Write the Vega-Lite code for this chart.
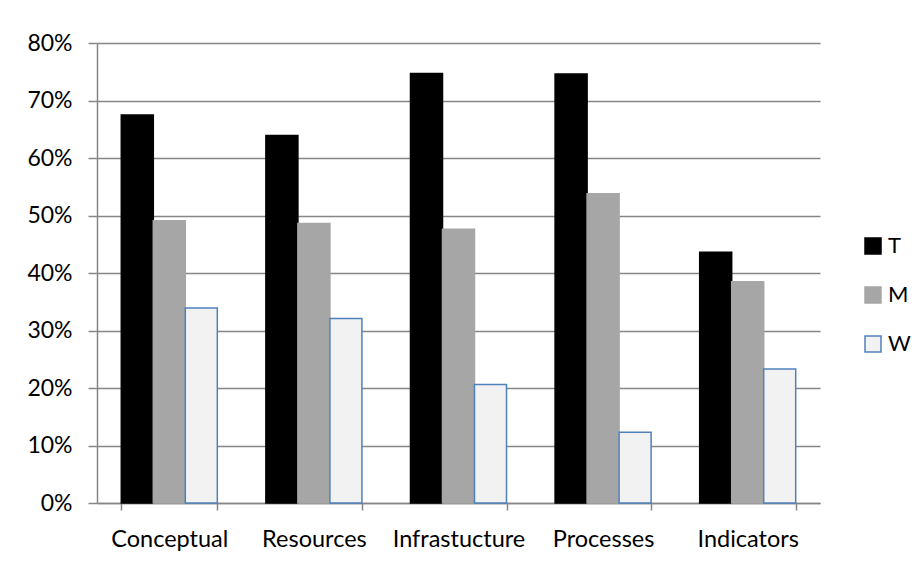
{
  "$schema": "https://vega.github.io/schema/vega-lite/v6.json",
  "width": 723,
  "height": 460,
  "autosize": {"type": "none"},
  "padding": {"left": 97, "top": 43, "right": 101, "bottom": 63},
  "background": "white",
  "data": {"values": [
    {"category": "Conceptual", "series": "T", "value": 0.675},
    {"category": "Conceptual", "series": "M", "value": 0.491},
    {"category": "Conceptual", "series": "W", "value": 0.339},
    {"category": "Resources", "series": "T", "value": 0.639},
    {"category": "Resources", "series": "M", "value": 0.486},
    {"category": "Resources", "series": "W", "value": 0.321},
    {"category": "Infrastucture", "series": "T", "value": 0.747},
    {"category": "Infrastucture", "series": "M", "value": 0.476},
    {"category": "Infrastucture", "series": "W", "value": 0.206},
    {"category": "Processes", "series": "T", "value": 0.746},
    {"category": "Processes", "series": "M", "value": 0.538},
    {"category": "Processes", "series": "W", "value": 0.123},
    {"category": "Indicators", "series": "T", "value": 0.436},
    {"category": "Indicators", "series": "M", "value": 0.385},
    {"category": "Indicators", "series": "W", "value": 0.233}
  ]},
  "mark": {"type": "bar", "strokeWidth": 1.5},
  "encoding": {
    "x": {
      "field": "category", "type": "nominal", "sort": null, "title": null,
      "scale": {"paddingInner": 0.336, "paddingOuter": 0.168},
      "axis": {
        "labelAngle": 0, "labelFont": "Lato", "labelFontSize": 23.5, "labelColor": "#000000",
        "labelPadding": 17, "domainColor": "#868686", "domainWidth": 1.5,
        "tickColor": "#868686", "tickWidth": 1.5, "tickSize": 7, "tickBand": "extent",
        "grid": false
      }
    },
    "xOffset": {"field": "series", "type": "nominal", "sort": ["T", "M", "W"], "scale": {"paddingInner": 0, "paddingOuter": 0}},
    "y": {
      "field": "value", "type": "quantitative", "title": null,
      "scale": {"domain": [0, 0.8], "nice": false},
      "axis": {
        "values": [0, 0.1, 0.2, 0.3, 0.4, 0.5, 0.6, 0.7, 0.8], "format": ".0%",
        "labelFont": "Lato", "labelFontSize": 23, "labelColor": "#000000", "labelPadding": 16,
        "domainColor": "#868686", "domainWidth": 1.5,
        "tickColor": "#868686", "tickWidth": 1.5, "tickSize": 9,
        "gridColor": "#868686", "gridWidth": 1.5
      }
    },
    "color": {
      "field": "series", "type": "nominal", "sort": ["T", "M", "W"], "title": null,
      "scale": {"domain": ["T", "M", "W"], "range": ["#000000", "#a6a6a6", "#f2f2f2"]},
      "legend": {
        "orient": "none", "legendX": 765, "legendY": 192, "symbolType": "square", "symbolSize": 256,
        "labelFont": "Lato", "labelFontSize": 22, "labelColor": "#000000", "rowPadding": 27,
        "symbolStrokeWidth": 1.5, "labelOffset": 4
      }
    },
    "stroke": {
      "field": "series", "type": "nominal", "sort": ["T", "M", "W"],
      "scale": {"domain": ["T", "M", "W"], "range": ["#000000", "#a6a6a6", "#4f81bd"]},
      "legend": null
    }
  },
  "config": {"view": {"stroke": null}}
}
